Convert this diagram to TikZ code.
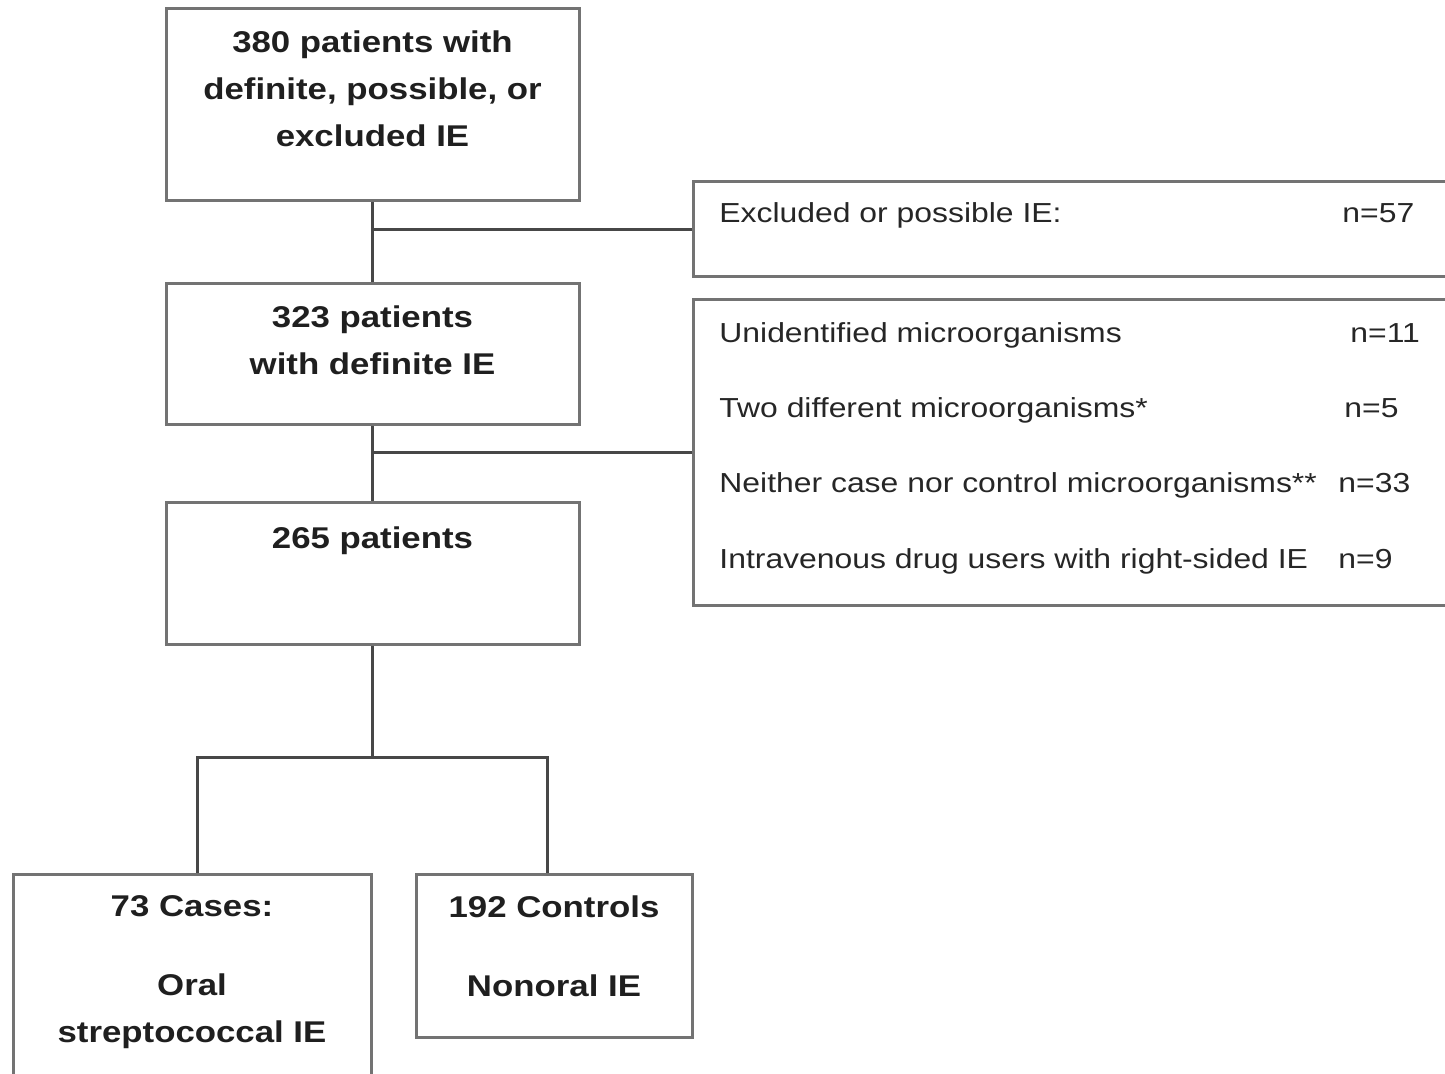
\documentclass[tikz,border=0pt]{standalone}
\usepackage{fontspec}
\setmainfont{Liberation Sans}[FakeStretch=1.16]
\usetikzlibrary{positioning}
\begin{document}
\begin{tikzpicture}[x=0.5pt, y=-0.5pt,
  box/.style = {shape=rectangle, draw=black!55, line width=1.5pt,
    inner sep=0pt},
  bold/.style = {align=center, inner sep=0pt, text=black!88,
    font=\fontsize{15}{23.5}\selectfont\bfseries},
  plain/.style = {inner sep=0pt, anchor=base west, text=black!85,
    font=\fontsize{13.75}{16.5}\selectfont},
  link/.style = {draw=black!72, line width=1.5pt}]
  \clip (0,0) rectangle (1445,1074);
  \node[box, minimum width=206.5pt, minimum height=96pt] (all) at (372.5,105) {};
  \node[bold, below=11.5pt of all.north] (allt) {380 patients with\\definite, possible, or\\excluded IE};
  \node[box, minimum width=206.5pt, minimum height=70.5pt] (definite) at (372.5,354.5) {};
  \node[bold, below=11.25pt of definite.north] (definitet) {323 patients\\with definite IE};
  \node[box, minimum width=206.5pt, minimum height=70.5pt] (patients) at (372.5,573.5) {};
  \node[bold, below=12.25pt of patients.north] (patientst) {265 patients};
  \node[box, minimum width=383.5pt, minimum height=47.5pt] (excluded) at (1076.5,229.5) {};
  \node[box, minimum width=383.5pt, minimum height=152.5pt] (other) at (1076.5,452.5) {};
  \node[box, minimum width=179pt, minimum height=115pt] (cases) at (192,989) {};
  \node[bold, below=11.25pt of cases.north] (casest) {73 Cases:\\[16pt]Oral\\streptococcal IE};
  \node[box, minimum width=138pt, minimum height=81.5pt] (controls) at (554,955.5) {};
  \node[bold, below=11.25pt of controls.north] (controlst) {192 Controls\\[16pt]Nonoral IE};
  \node[plain] (reason0) at (719,223) {Excluded or possible IE:};
  \node[plain] (count0) at (1342,223) {n=57};
  \foreach \t/\n/\nx/\yy [count=\i] in {Unidentified microorganisms/11/1350/343,
      Two different microorganisms*/5/1344/418,
      Neither case nor control microorganisms**/33/1338/493,
      Intravenous drug users with right-sided IE/9/1338/568} {
    \node[plain] (reason\i) at (719,\yy) {\t};
    \node[plain] (count\i) at (\nx,\yy) {n=\n};
  }
  \coordinate (split) at (372.5,757);
  \coordinate (jl) at (197,757);
  \coordinate (jr) at (547,757);
  \draw[link] (all.south) -- (definite.north);
  \draw[link] (all.south |- excluded.west) -- (excluded.west);
  \draw[link] (definite.south) -- (patients.north);
  \draw[link] (definite.south |- other.west) -- (other.west);
  \draw[link] (patients.south) -- (split);
  \draw[link] (jl |- cases.north) -- (jl) -- (jr) -- (jr |- controls.north);
\end{tikzpicture}
\end{document}
